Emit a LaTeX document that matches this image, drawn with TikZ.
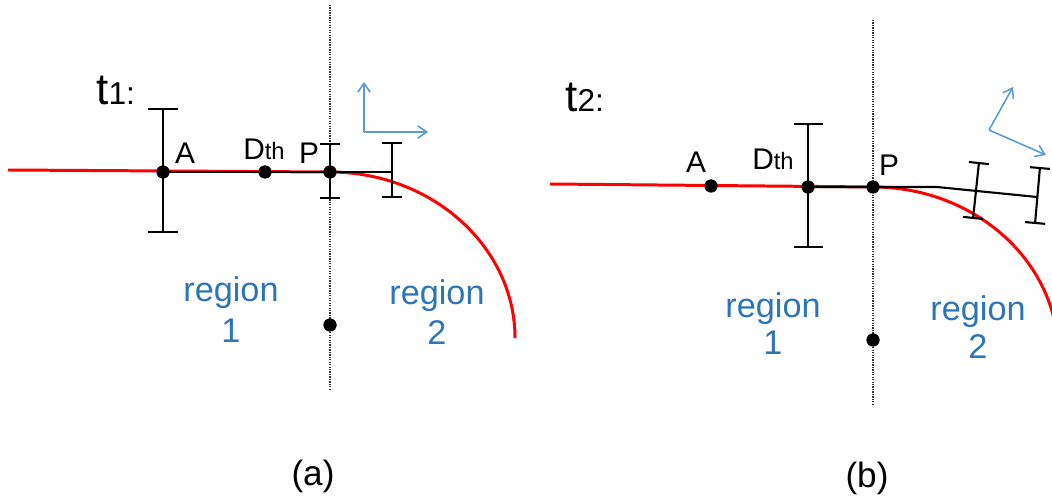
\documentclass[tikz,border=0pt]{standalone}
\usepackage{fontspec}
\setmainfont{Liberation Sans}
\usetikzlibrary{arrows.meta}
\definecolor{axisblue}{RGB}{91,155,213}
\definecolor{regionblue}{RGB}{46,117,182}
\newcommand{\bigfont}{\fontsize{25}{25}\selectfont}
\newcommand{\midfont}{\fontsize{18}{18}\selectfont}
\newcommand{\ptfont}{\fontsize{17}{17}\selectfont}
\newcommand{\smallsub}{\fontsize{13.5}{13.5}\selectfont}

\begin{document}
\begin{tikzpicture}[x=0.02cm, y=-0.02cm, >={Straight Barb[length=5pt,width=7pt]},
    curve/.style={red, line width=1.7pt},
    track/.style={black, line width=1.2pt},
    errbar/.style={black, line width=1.2pt, {Bar[width=#1]}-{Bar[width=#1]}},
    border/.style={black!80, line width=0.6pt, dash pattern=on 0.7pt off 0.7pt},
    axis/.style={axisblue, line width=0.9pt, ->},
    dot/.style={circle, fill=black, inner sep=0pt, minimum size=0.26cm},
    lbl/.style={font=\ptfont, anchor=base, inner sep=0pt},
    region/.style={font=\fontsize{19.5}{19.5}\selectfont, text=regionblue, anchor=base, inner sep=0pt},
    caption/.style={font=\fontsize{20}{20}\selectfont, anchor=base, inner sep=0pt}]

    % Frame
    \clip (0,0) rectangle (1052,503);

    % ---------- Panel (a) ----------
    \coordinate (a-start) at (8,170);
    \coordinate (a-end) at (392,172);
    \node[dot] (a-A) at (163,172) {};
    \node[dot] (a-D) at (265,172) {};
    \node[dot] (a-P) at (330,172) {};
    \node[dot] (a-O) at (330,325) {};

    % Boundary between regions
    \draw[border] (330,5) -- (330,390);

    % Road edge
    \draw[curve] (a-start) -- (a-P.center)
        .. controls (432,172) and (515,247) .. (515,338);

    % Look-ahead track and error bars
    \draw[track] (a-A.center) -- (a-end);
    \draw[errbar=0.6cm] (a-A.center) ++(0,-64) -- ++(0,125);
    \draw[errbar=0.4cm] (a-P.center) ++(0,-29) -- ++(0,56);
    \draw[errbar=0.4cm] (a-end) ++(0,-30) -- ++(0,56);

    % Dots on top
    \foreach \p in {a-A, a-D, a-P, a-O} \node[dot] at (\p) {};

    % Local frame
    \coordinate (a-ax) at (364,132);
    \draw[axis] (a-ax) -- (364,82);
    \draw[axis] (a-ax) -- (428,132);

    % Labels
    \node[anchor=base west, inner sep=0pt] (a-t) at (96,105) {{\bigfont t}{\midfont 1:}};
    \node[lbl] (a-Alab) at (185,164) {A};
    \node[lbl] (a-Dlab) at (264,160) {D{\smallsub th}};
    \node[lbl] (a-Plab) at (309,164) {P};
    \node[region] (a-r1) at (231,302) {region};
    \node[region] (a-r1n) at (231,342) {1};
    \node[region] (a-r2) at (437,305) {region};
    \node[region] (a-r2n) at (437,345) {2};
    \node[caption] (a-cap) at (313,485) {(a)};

    % ---------- Panel (b) ----------
    \coordinate (b-start) at (550,184);
    \coordinate (b-bend) at (937,187);
    \coordinate (b-end) at (1037,197);
    \node[dot] (b-A) at (711,186) {};
    \node[dot] (b-D) at (808,187) {};
    \node[dot] (b-P) at (873,187) {};
    \node[dot] (b-O) at (873,340) {};

    % Boundary between regions
    \draw[border] (873,20) -- (873,405);

    % Road edge
    \draw[curve] (b-start) -- (b-P.center)
        .. controls (975,187) and (1058,262) .. (1058,353);

    % Look-ahead track and error bars
    \draw[track] (b-D.center) -- (b-P.center) -- (b-bend) -- (b-end);
    \draw[errbar=0.58cm] (b-D.center) ++(0,-64) -- ++(0,125);
    \draw[errbar=0.4cm] (979,162) -- (973,219);
    \draw[errbar=0.4cm] (1040,167) -- (1035,224);

    % Dots on top
    \foreach \p in {b-A, b-D, b-P, b-O} \node[dot] at (\p) {};

    % Local frame (rotated)
    \coordinate (b-ax) at (989,130);
    \draw[axis] (b-ax) -- (1013,87);
    \draw[axis] (b-ax) -- (1046,155);

    % Labels
    \node[anchor=base west, inner sep=0pt] (b-t) at (565,112) {{\bigfont t}{\midfont 2:}};
    \node[lbl] (b-Alab) at (696,173) {A};
    \node[lbl] (b-Dlab) at (773,170) {D{\smallsub th}};
    \node[lbl] (b-Plab) at (889,176) {P};
    \node[region] (b-r1) at (773,317) {region};
    \node[region] (b-r1n) at (773,355) {1};
    \node[region] (b-r2) at (978,320) {region};
    \node[region] (b-r2n) at (978,358) {2};
    \node[caption] (b-cap) at (867,487) {(b)};

\end{tikzpicture}
\end{document}
